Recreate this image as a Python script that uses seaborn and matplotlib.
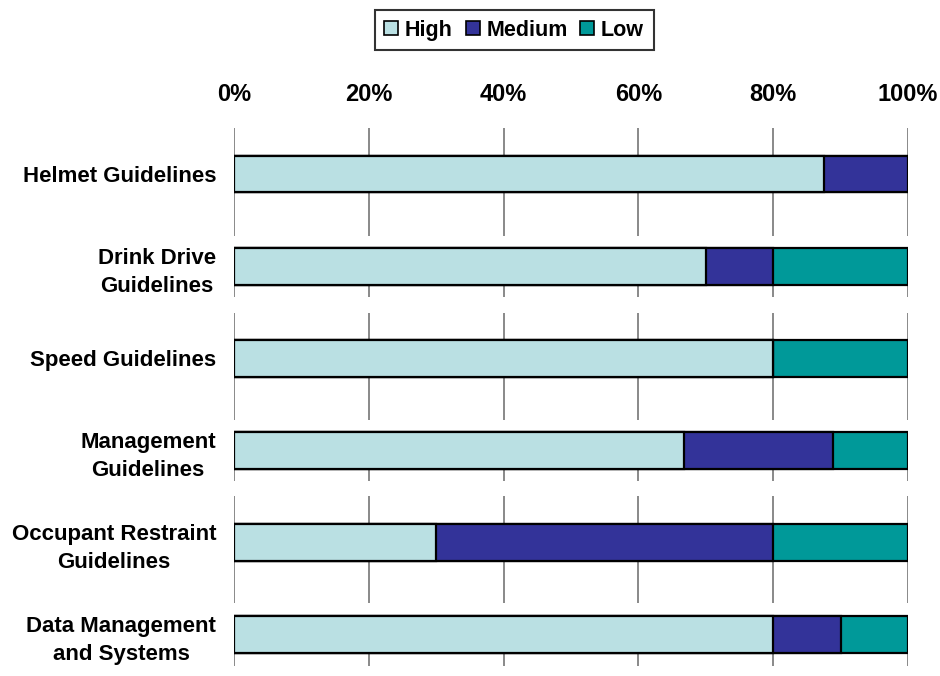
import numpy as np
import pandas as pd
import matplotlib
matplotlib.use("Agg")
import matplotlib.pyplot as plt
import seaborn as sns
from matplotlib.patches import Patch

# data (percent of responses per guideline area)
categories = ["Helmet Guidelines", "Drink Drive\nGuidelines", "Speed Guidelines",
              "Management\nGuidelines", "Occupant Restraint\nGuidelines",
              "Data Management\nand Systems"]
high = [87.5, 70.0, 80.0, 66.7, 30.0, 80.0]
medium = [12.5, 10.0, 0.0, 22.2, 50.0, 10.0]
low = [0.0, 20.0, 20.0, 11.1, 20.0, 10.0]

series = ["High", "Medium", "Low"]
colors = {"High": "#BAE0E3", "Medium": "#333399", "Low": "#009999"}

df = pd.DataFrame({"Category": categories, "High": high, "Medium": medium, "Low": low})
df["cum_high"] = df["High"]
df["cum_medium"] = df["High"] + df["Medium"]
df["cum_low"] = df["cum_medium"] + df["Low"]

sns.set_theme(style="white")
plt.rcParams["font.family"] = ["Liberation Sans", "DejaVu Sans"]
plt.rcParams["font.weight"] = "bold"
plt.rcParams["text.color"] = "black"
plt.rcParams["xtick.color"] = "black"
plt.rcParams["ytick.color"] = "black"

fig = plt.figure(figsize=(9.4, 6.76), dpi=100)
ax = fig.add_axes([0.249, 0.0148, 0.717, 0.7959])

# broken gridline look of the original (gaps in category units)
gaps = [(0.67, 0.80), (1.33, 1.51), (2.67, 2.81), (3.33, 3.50), (4.66, 4.80)]
y_lo, y_hi = -0.5, 5.34
segs = []
start = y_lo
for g0, g1 in gaps:
    segs.append((start, g0))
    start = g1
segs.append((start, y_hi))
for xv in range(0, 101, 20):
    for s0, s1 in segs:
        ax.plot([xv, xv], [s0, s1], color="#808080", lw=1.3, zorder=0,
                solid_capstyle="butt")

# stacked bars drawn back to front from cumulative totals
for col, name in [("cum_low", "Low"), ("cum_medium", "Medium"), ("cum_high", "High")]:
    sns.barplot(data=df, x=col, y="Category", orient="h", color=colors[name],
                edgecolor="black", linewidth=1.6, width=0.4, saturation=1,
                ax=ax, zorder=2)

ax.set_xlim(0, 100)
ax.set_ylim(y_hi, y_lo)
ax.set_xticks(range(0, 101, 20))
ax.set_xticklabels([f"{v}%" for v in range(0, 101, 20)], fontsize=17, fontweight="bold",
                   color="black")
ax.xaxis.tick_top()
ax.tick_params(axis="x", length=0, pad=16)
ax.tick_params(axis="y", length=0, pad=13)
ax.set_yticklabels(categories, fontsize=16, fontweight="bold", color="black")
for lab in ax.get_yticklabels():
    lab.set_multialignment("center")
    lab.set_linespacing(1.45)
ax.set_xlabel("")
ax.set_ylabel("")
for sp in ax.spines.values():
    sp.set_visible(False)

handles = [Patch(facecolor=colors[s], edgecolor="black", linewidth=1.2) for s in series]
leg = fig.legend(handles, series, loc="upper center", bbox_to_anchor=(0.547, 0.995),
                 ncol=3, frameon=True, fancybox=False, edgecolor="black",
                 prop={"size": 15.5, "weight": "bold"}, handlelength=0.65,
                 handleheight=0.65, handletextpad=0.3, columnspacing=0.6,
                 borderpad=0.45, borderaxespad=0.3)
leg.get_frame().set_linewidth(1.5)
for t in leg.get_texts():
    t.set_color("black")

fig.savefig("out.png", dpi=100)
